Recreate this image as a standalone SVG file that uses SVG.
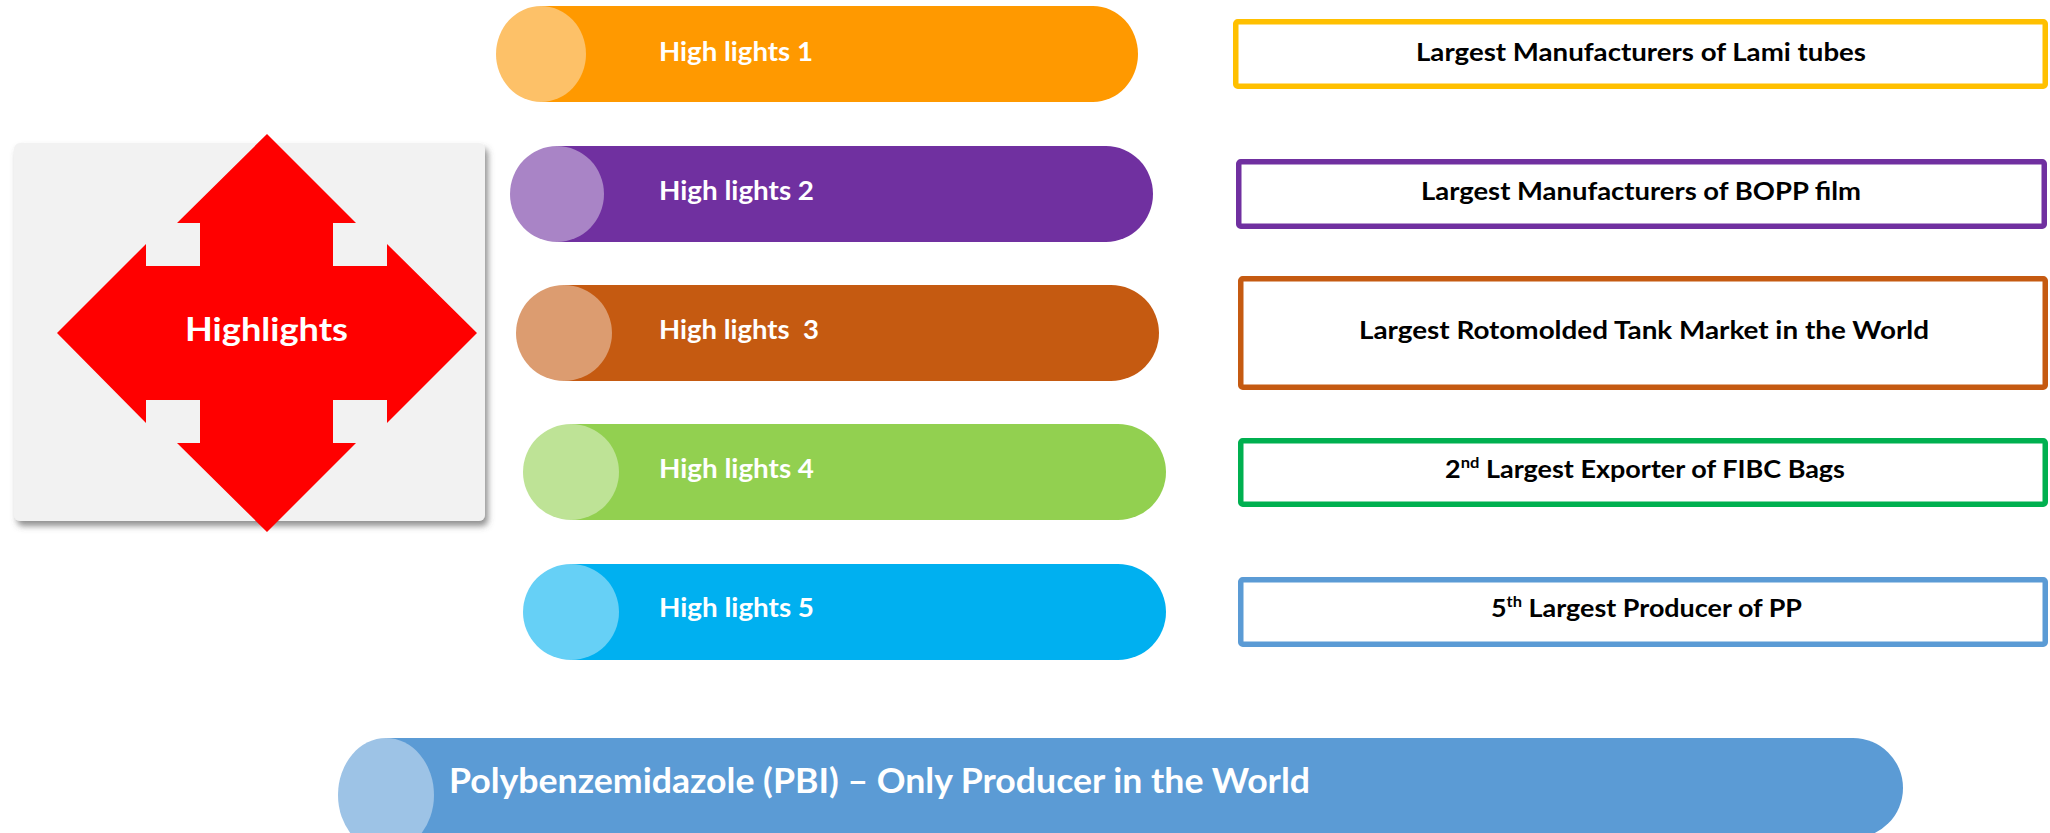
<svg xmlns="http://www.w3.org/2000/svg" width="2050" height="833" viewBox="0 0 2050 833">
  <defs>
    <filter id="cardShadow" x="-10%" y="-10%" width="125%" height="125%">
      <feDropShadow dx="3" dy="5" stdDeviation="3" flood-color="#555555" flood-opacity="0.65"/>
    </filter>
    <style>
      .pill-label { font-family: Lato, "Liberation Sans", sans-serif; font-weight: 700; font-size: 26px; fill: #ffffff; }
      .box-label { font-family: Lato, "Liberation Sans", sans-serif; font-weight: 700; font-size: 24.5px; fill: #000000; }
      .sup { font-size: 15px; }
      .frame { fill: #ffffff; stroke-width: 5.5; }
    </style>
  </defs>

  <rect width="2050" height="833" fill="#ffffff"/>

  <!-- Central card with the four-way arrow -->
  <g id="highlights">
    <rect x="14" y="143" width="471" height="378" rx="6" fill="#f2f2f2" filter="url(#cardShadow)"/>
    <polygon fill="#ff0000" points="267,134 356,223 333,223 333,266 387,266 387,244 477,333 387,423 387,400 333,400 333,443 356,443 267,532 177,443 200,443 200,400 146,400 146,423 57,333 146,244 146,266 200,266 200,223 177,223"/>
    <text x="185" y="341" font-family="Lato, 'Liberation Sans', sans-serif" font-weight="700" font-size="33" fill="#ffffff" textLength="163" lengthAdjust="spacingAndGlyphs">Highlights</text>
  </g>

  <!-- Cylinder bars: body, right cap, lighter front face -->
  <g id="bar1">
    <path d="M541,6 H1093 A45,48 0 0 1 1093,102 H541 Z" fill="#ff9900"/>
    <ellipse cx="541" cy="54" rx="45" ry="48" fill="#fdc168"/>
    <text class="pill-label" x="659" y="61" textLength="154" lengthAdjust="spacingAndGlyphs">High lights 1</text>
  </g>
  <g id="bar2">
    <path d="M557,146 H1106 A47,48 0 0 1 1106,242 H557 Z" fill="#7030a0"/>
    <ellipse cx="557" cy="194" rx="47" ry="48" fill="#a984c6"/>
    <text class="pill-label" x="659" y="200" textLength="155" lengthAdjust="spacingAndGlyphs">High lights 2</text>
  </g>
  <g id="bar3">
    <path d="M564,285 H1111 A48,48 0 0 1 1111,381 H564 Z" fill="#c55a11"/>
    <ellipse cx="564" cy="333" rx="48" ry="48" fill="#dc9c70"/>
    <text class="pill-label" x="659" y="339" textLength="160" lengthAdjust="spacingAndGlyphs" xml:space="preserve">High lights  3</text>
  </g>
  <g id="bar4">
    <path d="M571,424 H1118 A48,48 0 0 1 1118,520 H571 Z" fill="#92d050"/>
    <ellipse cx="571" cy="472" rx="48" ry="48" fill="#bee396"/>
    <text class="pill-label" x="659" y="478" textLength="155" lengthAdjust="spacingAndGlyphs">High lights 4</text>
  </g>
  <g id="bar5">
    <path d="M571,564 H1118 A48,48 0 0 1 1118,660 H571 Z" fill="#00b0f0"/>
    <ellipse cx="571" cy="612" rx="48" ry="48" fill="#66d0f6"/>
    <text class="pill-label" x="659" y="617" textLength="155" lengthAdjust="spacingAndGlyphs">High lights 5</text>
  </g>

  <!-- Outlined statement boxes -->
  <g id="fact1">
    <rect class="frame" x="1235.75" y="21.75" width="809.5" height="64.5" rx="2" stroke="#ffc000"/>
    <text class="box-label" x="1416" y="61" textLength="450" lengthAdjust="spacingAndGlyphs">Largest Manufacturers of Lami tubes</text>
  </g>
  <g id="fact2">
    <rect class="frame" x="1238.75" y="161.75" width="805.5" height="64.5" rx="2" stroke="#7030a0"/>
    <text class="box-label" x="1421" y="200" textLength="440" lengthAdjust="spacingAndGlyphs">Largest Manufacturers of BOPP film</text>
  </g>
  <g id="fact3">
    <rect class="frame" x="1240.75" y="278.75" width="804.5" height="108.5" rx="2" stroke="#c55a11"/>
    <text class="box-label" x="1359" y="339" textLength="570" lengthAdjust="spacingAndGlyphs">Largest Rotomolded Tank Market in the World</text>
  </g>
  <g id="fact4">
    <rect class="frame" x="1240.75" y="440.75" width="804.5" height="63.5" rx="2" stroke="#00b050"/>
    <text class="box-label" x="1445" y="478" textLength="400" lengthAdjust="spacingAndGlyphs">2<tspan class="sup" dy="-10">nd</tspan><tspan dy="10"> Largest Exporter of FIBC Bags</tspan></text>
  </g>
  <g id="fact5">
    <rect class="frame" x="1240.75" y="579.75" width="804.5" height="64.5" rx="2" stroke="#5b9bd5"/>
    <text class="box-label" x="1491" y="617" textLength="311" lengthAdjust="spacingAndGlyphs">5<tspan class="sup" dy="-10">th</tspan><tspan dy="10"> Largest Producer of PP</tspan></text>
  </g>

  <!-- Wide bottom bar -->
  <g id="bar-pbi">
    <path d="M386,738 H1853 A50,50 0 0 1 1853,838 H386 Z" fill="#5b9bd5"/>
    <ellipse cx="386" cy="795" rx="48" ry="57" fill="#9dc3e6"/>
    <text x="449" y="793" font-family="Lato, 'Liberation Sans', sans-serif" font-weight="700" font-size="35" fill="#ffffff" textLength="861" lengthAdjust="spacingAndGlyphs">Polybenzemidazole (PBI) – Only Producer in the World</text>
  </g>
</svg>
